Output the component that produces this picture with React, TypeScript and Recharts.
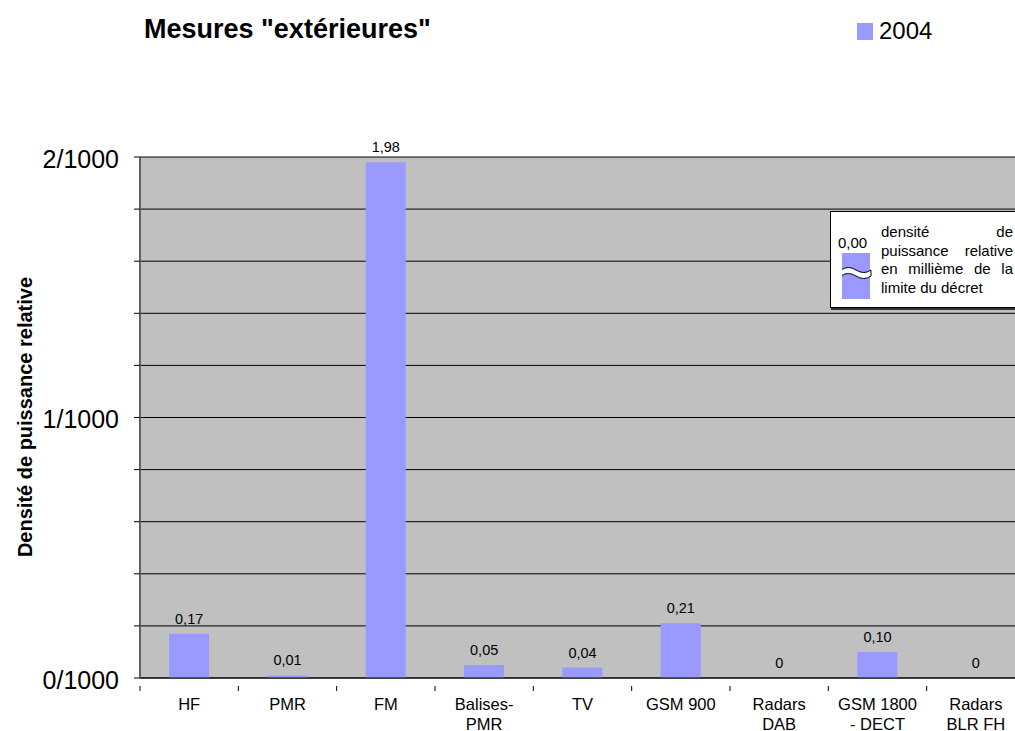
import React from "react";
import {
  ComposedChart,
  Bar,
  Line,
  XAxis,
  YAxis,
  CartesianGrid,
  LabelList,
} from "recharts";

const FONT = "Arial, 'Liberation Sans', sans-serif";

// bands measured outdoors, relative power density (per mille of the legal limit)
const categories = [
  "HF",
  "PMR",
  "FM",
  "Balises-\nPMR",
  "TV",
  "GSM 900",
  "Radars\nDAB",
  "GSM 1800\n- DECT",
  "Radars\nBLR FH",
];
const values2004 = [0.17, 0.01, 1.98, 0.05, 0.04, 0.21, 0, 0.1, 0];
const yTicks = [0, 0.2, 0.4, 0.6, 0.8, 1, 1.2, 1.4, 1.6, 1.8, 2];
const seriesName = "2004";

const data = categories.map((name, i) => ({ name, v2004: values2004[i] }));

const fmtValue = (v: number) => (v === 0 ? "0" : v.toFixed(2).replace(".", ","));
const fmtY = (v: number) => (Number.isInteger(v) ? `${v}/1000` : "");

const BAND = 98.33;

// category label plus the separator tick on the left edge of each band
const CategoryTick = ({ x, y, payload }: any) => {
  const lines = String(payload.value).split("\n");
  const left = x - BAND / 2;
  return (
    <g>
      <line x1={left} y1={y} x2={left} y2={y + 5} stroke="#000" />
      <text x={x} y={y} textAnchor="middle" fontSize={16.5} fontFamily={FONT} fill="#000">
        {lines.map((l, i) => (
          <tspan key={i} x={x} dy={i === 0 ? 24 : 19.5}>
            {l}
          </tspan>
        ))}
      </text>
    </g>
  );
};

// value written above the top of each bar (zero bars get one too)
const ValueLabel = ({ x, y, value }: any) => (
  <text
    x={Number(x)}
    y={Number(y) - 10}
    textAnchor="middle"
    fontSize={14.5}
    fontFamily={FONT}
    fill="#000"
  >
    {fmtValue(Number(value))}
  </text>
);

const UnitNote = () => (
  <div
    style={{
      position: "absolute",
      left: 830,
      top: 211,
      width: 200,
      height: 95,
      background: "#fff",
      border: "1px solid #000",
      boxShadow: "1px 2px 0 #333",
      fontFamily: FONT,
      color: "#000",
    }}
  >
    <div style={{ position: "absolute", left: 7, top: 22, fontSize: 15 }}>0,00</div>
    <svg style={{ position: "absolute", left: 11, top: 41 }} width={30} height={48}>
      <rect x={0} y={0} width={28} height={46} fill="#9999ff" />
      <path
        d="M-1 17 Q6 12 14 17 T29 17 L29 23 Q22 28 14 23 T-1 23 Z"
        fill="#fff"
        stroke="#000"
        strokeWidth={1}
      />
    </svg>
    <div style={{ position: "absolute", left: 50, top: 11, width: 132, fontSize: 15, lineHeight: "18.7px" }}>
      {[["densité", "de"], ["puissance", "relative"], ["en", "millième", "de", "la"]].map((w, i) => (
        <div key={i} style={{ display: "flex", justifyContent: "space-between" }}>
          {w.map((t, j) => (
            <span key={j}>{t}</span>
          ))}
        </div>
      ))}
      <div>limite du décret</div>
    </div>
  </div>
);

export default function App() {
  return (
    <div
      style={{
        position: "absolute",
        left: 0,
        top: 0,
        width: 1015,
        height: 731,
        overflow: "hidden",
        background: "#fff",
        fontFamily: FONT,
      }}
    >
      <div
        style={{
          position: "absolute",
          left: 144,
          top: 14,
          fontSize: 27,
          fontWeight: "bold",
          color: "#000",
          whiteSpace: "nowrap",
        }}
      >
        Mesures "extérieures"
      </div>
      <div
        style={{
          position: "absolute",
          left: 857,
          top: 17,
          display: "flex",
          alignItems: "center",
          fontSize: 24,
          color: "#000",
        }}
      >
        <span style={{ display: "inline-block", width: 16, height: 17, background: "#9999ff", marginRight: 6 }} />
        {seriesName}
      </div>
      <div
        style={{
          position: "absolute",
          left: 25,
          top: 417,
          transform: "translate(-50%, -50%) rotate(-90deg)",
          whiteSpace: "nowrap",
          fontSize: 20,
          fontWeight: "bold",
          color: "#000",
        }}
      >
        Densité de puissance relative
      </div>
      <ComposedChart
        width={1040}
        height={731}
        data={data}
        margin={{ top: 157, right: 15, left: 0, bottom: 0 }}
        barSize={40}
      >
        <CartesianGrid vertical={false} stroke="#000" fill="#c0c0c0" />
        <XAxis
          dataKey="name"
          height={53}
          interval={0}
          tickLine={false}
          axisLine={{ stroke: "#000" }}
          tick={<CategoryTick />}
        />
        <YAxis
          width={140}
          domain={[0, 2]}
          ticks={yTicks}
          interval={0}
          tickFormatter={fmtY}
          tickSize={6}
          tickMargin={15}
          tickLine={{ stroke: "#000" }}
          axisLine={{ stroke: "#606060", strokeWidth: 2 }}
          tick={{ fill: "#000", fontSize: 25, fontFamily: FONT, dy: 2 }}
        />
        <Bar dataKey="v2004" name={seriesName} fill="#9999ff" isAnimationActive={false} />
        {/* invisible line through the bar tops, only used to place the value labels */}
        <Line
          dataKey="v2004"
          stroke="none"
          dot={false}
          activeDot={false}
          legendType="none"
          isAnimationActive={false}
        >
          <LabelList dataKey="v2004" content={<ValueLabel />} />
        </Line>
      </ComposedChart>
      <UnitNote />
    </div>
  );
}
